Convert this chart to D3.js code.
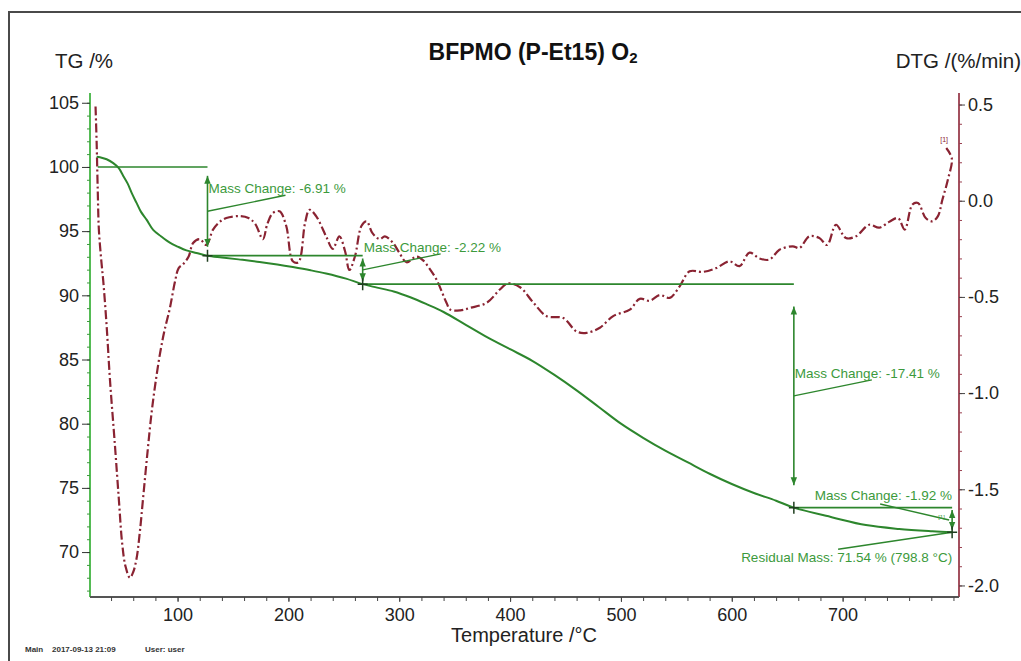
<!DOCTYPE html>
<html>
<head>
<meta charset="utf-8">
<script src="https://cdn.jsdelivr.net/npm/d3@7"></script>
<style>
  body { margin: 0; background: #fff; }
  svg { display: block; font-family: "Liberation Sans", Arial, sans-serif; }
</style>
</head>
<body>
<svg id="chart" width="1021" height="661"></svg>
<script>
// ---- TG curve: temperature (°C) / mass (%) ----
const tgTemp = [27, 30, 36, 42, 47, 51, 55, 59, 63, 67, 72, 78, 85, 93, 100, 108, 117, 127,
  140, 155, 174, 190, 204, 220, 234, 252, 267, 280, 295, 310, 325, 340, 360, 380, 400, 420,
  440, 460, 480, 500, 520, 540, 560, 580, 600, 620, 640, 656, 691, 721, 751, 781, 798.8];
const tgMass = [100.8, 100.75, 100.6, 100.3, 99.9, 99.3, 98.7, 97.9, 97.2, 96.5, 95.9, 95.1,
  94.6, 94.1, 93.8, 93.5, 93.3, 93.09, 92.95, 92.8, 92.6, 92.4, 92.2, 91.95, 91.7, 91.3, 90.87,
  90.6, 90.3, 89.85, 89.3, 88.7, 87.7, 86.7, 85.8, 84.9, 83.8, 82.6, 81.3, 80.0, 78.9, 77.9,
  77.0, 76.1, 75.3, 74.6, 74.0, 73.46, 72.7, 72.1, 71.8, 71.62, 71.54];

// ---- DTG curve: temperature (°C) / rate (%/min) ----
const dtgTemp = [26, 27, 28, 29, 31, 33, 36, 39, 43.6, 47, 50, 53, 57, 60, 63, 66, 69, 73, 76.6,
  80, 84, 88, 93, 97.7, 101, 105, 110, 114, 120, 126, 132, 138, 144, 156, 164, 170, 177, 181,
  186, 192, 198, 204, 209, 215, 219, 225, 234, 240, 246, 251, 255, 260, 266, 270.5, 276, 282.5,
  287, 294.5, 300, 306.6, 315.6, 321.5, 327, 333.6, 342.6, 346, 355, 364, 379, 391, 398, 409,
  421, 433, 448, 460, 469, 481, 493, 508, 517, 526, 535, 544, 553, 562, 574, 586, 598, 607,
  616, 625, 634, 643, 655, 661, 670, 679, 686, 694, 703, 712, 724, 733, 742, 750, 756, 763,
  768, 775, 781, 786, 790, 795, 798.5, 793.5];
const dtgRate = [0.49, 0.3, 0.05, -0.15, -0.3, -0.42, -0.65, -0.93, -1.28, -1.55, -1.78, -1.9,
  -1.96, -1.93, -1.86, -1.72, -1.54, -1.3, -1.1, -0.95, -0.8, -0.68, -0.56, -0.42, -0.35, -0.33,
  -0.29, -0.22, -0.2, -0.23, -0.15, -0.11, -0.09, -0.08, -0.09, -0.12, -0.2, -0.12, -0.064,
  -0.055, -0.13, -0.315, -0.32, -0.116, -0.047, -0.08, -0.185, -0.25, -0.185, -0.26, -0.36,
  -0.29, -0.13, -0.107, -0.17, -0.2, -0.185, -0.22, -0.27, -0.32, -0.29, -0.31, -0.35, -0.41,
  -0.53, -0.566, -0.57, -0.557, -0.53, -0.46, -0.43, -0.45, -0.53, -0.6, -0.61, -0.68, -0.687,
  -0.66, -0.6, -0.566, -0.51, -0.52, -0.49, -0.505, -0.445, -0.367, -0.37, -0.35, -0.315,
  -0.34, -0.27, -0.3, -0.306, -0.255, -0.237, -0.246, -0.185, -0.194, -0.23, -0.125, -0.194,
  -0.185, -0.125, -0.14, -0.11, -0.09, -0.15, -0.02, -0.012, -0.09, -0.107, -0.08, 0.005,
  0.11, 0.22, 0.274];

// ---- Mass-change evaluation ----
const stepStartTemp = 28;
const startMass = 100;
const stepEndTemp = [127, 267, 656, 798.8];
const massChanges = [-6.91, -2.22, -17.41, -1.92];
const residualMass = 71.54;
const residualTemp = 798.8;

// ---- Axis ticks ----
const tgTicks = [70, 75, 80, 85, 90, 95, 100, 105];
const dtgTicks = [-2.0, -1.5, -1.0, -0.5, 0.0, 0.5];
const tempTicks = [100, 200, 300, 400, 500, 600, 700];

const titleMain = "BFPMO (P-Et15) O";
const titleSub = "2";

// ---- Layout ----
const svg = d3.select("#chart");
const pL = 90, pR = 959, pT = 93, pB = 597;

const x = d3.scaleLinear().domain([21, 805]).range([pL, pR]);
const yTG = d3.scaleLinear().domain([66.5, 105.76]).range([pB, pT]);
const yDTG = d3.scaleLinear().domain([-2.06, 0.56]).range([pB, pT]);

const green = "#2d862d";
const textGreen = "#3c9a3c";
const red = "#8a2332";
const fontFam = "Liberation Sans, Arial, sans-serif";

// outer frame
svg.append("path").attr("d", "M9,661 V12 H1021")
  .attr("fill", "none").attr("stroke", "#4a4a4a").attr("stroke-width", 2);

// arrowheads
const defs = svg.append("defs");
defs.append("marker").attr("id", "arr").attr("viewBox", "0 0 10 10")
  .attr("refX", 10).attr("refY", 5).attr("markerWidth", 8).attr("markerHeight", 8)
  .attr("markerUnits", "userSpaceOnUse").attr("orient", "auto-start-reverse")
  .append("path").attr("d", "M0,1 L10,5 L0,9 Z").attr("fill", green);

// ---- Axes ----
// left TG axis
const gL = svg.append("g").attr("transform", `translate(${pL},0)`);
gL.call(d3.axisLeft(yTG).tickValues(d3.range(67, 106, 1)).tickSize(3).tickFormat(""));
gL.selectAll(".tick line").attr("stroke", "#3c9a3c");
const gL2 = svg.append("g").attr("transform", `translate(${pL},0)`);
gL2.call(d3.axisLeft(yTG).tickValues(tgTicks).tickSize(8).tickPadding(3).tickFormat(d => String(d)));
gL2.select(".domain").remove();
gL2.selectAll(".tick line").attr("stroke", "#333");
gL2.selectAll(".tick text").attr("font-size", 18).attr("fill", "#222").attr("font-family", fontFam);
gL.select(".domain").attr("d", `M0,${pT}V${pB}`).attr("stroke", "#55bb55").attr("stroke-width", 2);

// right DTG axis
const gR = svg.append("g").attr("transform", `translate(${pR},0)`);
gR.call(d3.axisRight(yDTG).tickValues(d3.range(-20, 6, 1).map(v => v / 10)).tickSize(3).tickFormat(""));
gR.selectAll(".tick line").attr("stroke", "#9a4050");
const gR2 = svg.append("g").attr("transform", `translate(${pR},0)`);
gR2.call(d3.axisRight(yDTG).tickValues(dtgTicks).tickSize(6).tickPadding(3).tickFormat(d => d.toFixed(1)));
gR2.select(".domain").remove();
gR2.selectAll(".tick line").attr("stroke", "#444");
gR2.selectAll(".tick text").attr("font-size", 18).attr("fill", "#222").attr("font-family", fontFam);
gR.select(".domain").attr("d", `M0,${pT}V${pB}`).attr("stroke", "#a3505e").attr("stroke-width", 2);

// bottom temperature axis
const gB = svg.append("g").attr("transform", `translate(0,${pB})`);
gB.call(d3.axisBottom(x).tickValues(d3.range(40, 801, 20)).tickSize(4).tickFormat(""));
gB.selectAll(".tick line").attr("stroke", "#444");
const gB2 = svg.append("g").attr("transform", `translate(0,${pB})`);
gB2.call(d3.axisBottom(x).tickValues(tempTicks).tickSize(5).tickPadding(6).tickFormat(d => String(d)));
gB2.select(".domain").remove();
gB2.selectAll(".tick line").attr("stroke", "#444");
gB2.selectAll(".tick text").attr("font-size", 18).attr("fill", "#222").attr("font-family", fontFam);
gB.select(".domain").attr("d", `M${pL},0H${pR}`).attr("stroke", "#555").attr("stroke-width", 2);

// ---- Titles ----
const title = svg.append("text").attr("x", 533).attr("y", 60).attr("text-anchor", "middle")
  .attr("font-size", 23).attr("font-weight", "bold").attr("fill", "#111");
title.append("tspan").text(titleMain);
title.append("tspan").attr("font-size", 15).attr("dy", 3).text(titleSub);

svg.append("text").attr("x", 55).attr("y", 68).attr("font-size", 20.5).attr("fill", "#222").text("TG /%");
svg.append("text").attr("x", 1021).attr("y", 68).attr("text-anchor", "end")
  .attr("font-size", 20.5).attr("fill", "#222").text("DTG /(%/min)");
svg.append("text").attr("x", 524).attr("y", 642).attr("text-anchor", "middle")
  .attr("font-size", 20).attr("fill", "#222").text("Temperature /°C");

// footer
const foot = svg.append("g").attr("font-size", 8).attr("font-weight", "bold").attr("fill", "#333");
foot.append("text").attr("x", 25).attr("y", 652).text("Main");
foot.append("text").attr("x", 52).attr("y", 652).text("2017-09-13 21:09");
foot.append("text").attr("x", 145).attr("y", 652).text("User: user");

// ---- Curves ----
const dtgPts = dtgTemp.map((t, i) => [t, dtgRate[i]]);
const tgPts = tgTemp.map((t, i) => [t, tgMass[i]]);

svg.append("path").datum(dtgPts)
  .attr("d", d3.line().x(d => x(d[0])).y(d => yDTG(d[1])).curve(d3.curveCatmullRom.alpha(0.5)))
  .attr("fill", "none").attr("stroke", red).attr("stroke-width", 2.2)
  .attr("stroke-dasharray", "9,3,2,3");

svg.append("path").datum(tgPts)
  .attr("d", d3.line().x(d => x(d[0])).y(d => yTG(d[1])).curve(d3.curveCatmullRom.alpha(0.5)))
  .attr("fill", "none").attr("stroke", green).attr("stroke-width", 2);

// ---- Step annotations ----
const levels = [startMass];
massChanges.forEach((m, i) => levels.push(+(levels[i] + m).toFixed(2)));

const ann = svg.append("g").attr("font-size", 13.5).attr("fill", textGreen);
stepEndTemp.forEach((t, i) => {
  const t0 = i === 0 ? stepStartTemp : stepEndTemp[i - 1];
  const xa = x(t);
  const y0 = yTG(levels[i]), y1 = yTG(levels[i + 1]);
  // reference level
  ann.append("line").attr("x1", x(t0)).attr("x2", xa).attr("y1", y0).attr("y2", y0)
    .attr("stroke", green).attr("stroke-width", 1.6);
  // double arrow between levels
  const inset = (y1 - y0) * 0.1;
  ann.append("line").attr("x1", xa).attr("x2", xa).attr("y1", y0 + inset).attr("y2", y1 - inset)
    .attr("stroke", green).attr("stroke-width", 1.6)
    .attr("marker-start", "url(#arr)").attr("marker-end", "url(#arr)");
  const mid = (y0 + y1) / 2;
  const label = `Mass Change: ${massChanges[i].toFixed(2)} %`;
  if (i < 3) {
    ann.append("line").attr("x1", xa).attr("y1", mid).attr("x2", xa + 78).attr("y2", mid - 16)
      .attr("stroke", green).attr("stroke-width", 1.4);
    ann.append("text").attr("x", xa + 1).attr("y", mid - 18).text(label);
  } else {
    ann.append("line").attr("x1", xa - 3).attr("y1", mid).attr("x2", xa - 72).attr("y2", mid - 16)
      .attr("stroke", green).attr("stroke-width", 1.4);
    ann.append("text").attr("x", xa).attr("y", mid - 20).attr("text-anchor", "end").text(label);
    ann.append("text").attr("x", xa - 14).attr("y", mid - 1).attr("font-size", 6).text("[1]");
  }
});

// residual mass
const xr = x(residualTemp), yr = yTG(residualMass);
ann.append("line").attr("x1", xr).attr("y1", yr).attr("x2", xr - 114).attr("y2", yr + 17)
  .attr("stroke", green).attr("stroke-width", 1.4);
ann.append("text").attr("x", xr).attr("y", yr + 30).attr("text-anchor", "end")
  .text(`Residual Mass: ${residualMass.toFixed(2)} % (${residualTemp.toFixed(1)} °C)`);

// step markers on the TG curve
const markT = stepEndTemp.slice();
const markM = levels.slice(1);
markT.forEach((t, i) => {
  const cx = x(t), cy = yTG(markM[i]);
  svg.append("path").attr("d", `M${cx},${cy - 6}V${cy + 6}M${cx - 5},${cy}H${cx + 5}`)
    .attr("stroke", "#1f3f1f").attr("stroke-width", 1.5);
});

// DTG segment tag
svg.append("text").attr("x", x(dtgTemp[dtgTemp.length - 1]) - 6).attr("y", yDTG(dtgRate[dtgRate.length - 1]) - 6)
  .attr("font-size", 7).attr("fill", red).text("[1]");
</script>
</body>
</html>
